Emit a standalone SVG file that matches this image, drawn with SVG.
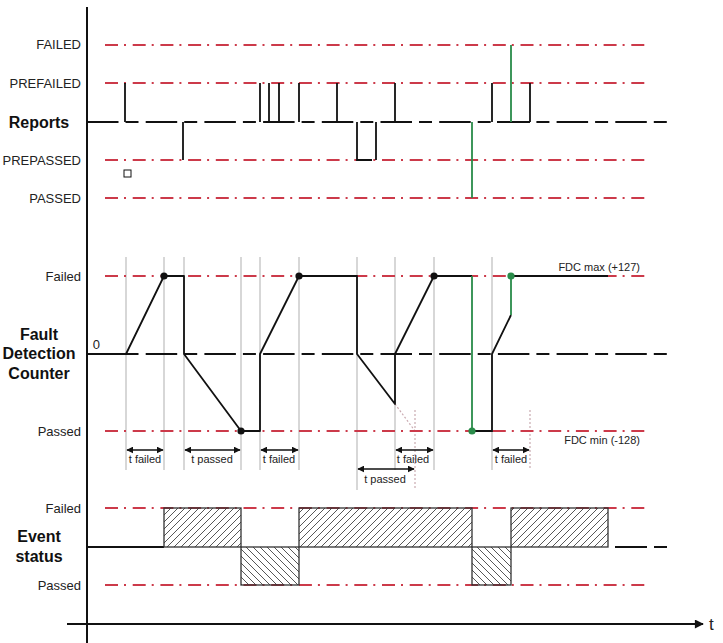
<svg xmlns="http://www.w3.org/2000/svg" width="723" height="643" viewBox="0 0 723 643">
<style>
.lbl{font-family:"Liberation Sans",Arial,sans-serif;font-size:13px;fill:#222;text-anchor:end}
.ttl{font-family:"Liberation Sans",Arial,sans-serif;font-size:16px;font-weight:bold;fill:#111;text-anchor:middle}
.sm{font-family:"Liberation Sans",Arial,sans-serif;font-size:11px;fill:#222}
.red{stroke:#cc3a4a;stroke-width:2;stroke-dasharray:13 6 2 6.7;fill:none}
.base{stroke:#111;stroke-width:1.8;stroke-dasharray:31.5 7 13 7.2;fill:none}
.blk{stroke:#111;stroke-width:1.8;fill:none}
.grn{stroke:#2a8c4a;stroke-width:1.8;fill:none}
.gv{stroke:#c2c2c2;stroke-width:1.3}
.gd{stroke:#c9aab0;stroke-width:1.2;stroke-dasharray:2 2}
.arr{stroke:#111;stroke-width:1.4;marker-start:url(#ah);marker-end:url(#ah)}
.box{stroke:#333;stroke-width:1.3}
</style>
<defs>
<marker id="ah" viewBox="0 0 10 10" refX="9" refY="5" markerWidth="7" markerHeight="7" markerUnits="userSpaceOnUse" orient="auto-start-reverse">
<path d="M0,0 L10,5 L0,10 z" fill="#111"/>
</marker>
<marker id="axh" viewBox="0 0 10 10" refX="9" refY="5" markerWidth="12" markerHeight="9" markerUnits="userSpaceOnUse" orient="auto">
<path d="M0,0 L10,5 L0,10 z" fill="#111"/>
</marker>
<pattern id="hf" patternUnits="userSpaceOnUse" width="7" height="7">
<path d="M-1,1 L1,-1 M0,7 L7,0 M6,8 L8,6" stroke="#444" stroke-width="0.9"/>
</pattern>
<pattern id="hp" patternUnits="userSpaceOnUse" width="7" height="7">
<path d="M-1,6 L1,8 M0,0 L7,7 M6,-1 L8,1" stroke="#444" stroke-width="0.9"/>
</pattern>
</defs>
<rect width="723" height="643" fill="#fff"/>

<g id="labels">
<text class="lbl" x="81" y="49">FAILED</text>
<text class="lbl" x="81" y="88">PREFAILED</text>
<text class="ttl" x="39" y="128">Reports</text>
<text class="lbl" x="81" y="165">PREPASSED</text>
<text class="lbl" x="81" y="203">PASSED</text>
<text class="lbl" x="81" y="281">Failed</text>
<text class="ttl" x="39" y="340">Fault</text>
<text class="ttl" x="39" y="359">Detection</text>
<text class="ttl" x="39" y="379">Counter</text>
<text class="lbl" x="100" y="349">0</text>
<text class="lbl" x="81" y="436">Passed</text>
<text class="lbl" x="81" y="513">Failed</text>
<text class="ttl" x="39" y="542">Event</text>
<text class="ttl" x="39" y="562">status</text>
<text class="lbl" x="81" y="590">Passed</text>
<text class="sm" x="640" y="271" text-anchor="end">FDC max (+127)</text>
<text class="sm" x="640" y="444" text-anchor="end">FDC min (-128)</text>
</g>

<g id="gridlines">
<line class="gv" x1="126" y1="257" x2="126" y2="470"/>
<line class="gv" x1="164" y1="257" x2="164" y2="470"/>
<line class="gv" x1="184" y1="257" x2="184" y2="470"/>
<line class="gv" x1="241" y1="257" x2="241" y2="470"/>
<line class="gv" x1="260" y1="257" x2="260" y2="470"/>
<line class="gv" x1="299" y1="257" x2="299" y2="470"/>
<line class="gv" x1="357" y1="257" x2="357" y2="490"/>
<line class="gv" x1="395" y1="257" x2="395" y2="470"/>
<line class="gv" x1="434" y1="257" x2="434" y2="470"/>
<line class="gv" x1="492" y1="257" x2="492" y2="470"/>
<line class="gd" x1="415" y1="410" x2="415" y2="490"/>
<line class="gd" x1="530" y1="410" x2="530" y2="470"/>
<line class="gd" x1="395" y1="404" x2="415" y2="431"/>
</g>

<g id="levels">
<line class="red" x1="105" y1="45" x2="645" y2="45"/>
<line class="red" x1="105" y1="83" x2="645" y2="83"/>
<line class="red" x1="105" y1="160" x2="645" y2="160"/>
<line class="red" x1="105" y1="198" x2="645" y2="198"/>
<line class="red" x1="105" y1="276" x2="645" y2="276"/>
<line class="red" x1="105" y1="431" x2="645" y2="431"/>
<line class="red" x1="105" y1="508" x2="645" y2="508"/>
<line class="red" x1="105" y1="585" x2="645" y2="585"/>
<line class="base" x1="87" y1="122" x2="667" y2="122"/>
<line class="base" x1="87" y1="354" x2="667" y2="354"/>
</g>

<rect x="124" y="170" width="7" height="7" fill="#fff" stroke="#111" stroke-width="1"/>

<g id="reports">
<path class="blk" d="M125,83V122 M183,122V160 M260,83V122 M269,83V122 M279,83V122 M299,83V122 M337,83V122 M357,122V160 H372 M376,122V160 M395,83V122 M492,83V122 M530,83V122 M497,122H530"/>
<path class="grn" d="M472,122V198 M511,122V45"/>
</g>

<g id="fdc">
<path class="blk" stroke-linejoin="round" d="M87,354 L126,354 L164,276 L184,276 L184,354 L241,431 L260,431 L260,354 L299,276 L357,276 L357,354 L395,404 L395,354 L434,276 L472,276"/>
<path class="blk" d="M472,431 L492,431 L492,354 L511,315 M511,276 L608,276"/>
<path class="grn" d="M472,276 L472,431 M511,315 L511,276"/>
<circle cx="164" cy="276" r="3.6" fill="#111"/>
<circle cx="241" cy="431" r="3.6" fill="#111"/>
<circle cx="299" cy="276" r="3.6" fill="#111"/>
<circle cx="434" cy="276" r="3.6" fill="#111"/>
<circle cx="472" cy="431" r="3.6" fill="#2a8c4a"/>
<circle cx="511" cy="276" r="3.6" fill="#2a8c4a"/>
</g>

<g id="connectors">
<line class="arr" x1="127" y1="450" x2="163" y2="450"/>
<line class="arr" x1="185" y1="450" x2="240" y2="450"/>
<line class="arr" x1="261" y1="450" x2="298" y2="450"/>
<line class="arr" x1="396" y1="450" x2="433" y2="450"/>
<line class="arr" x1="493" y1="450" x2="529" y2="450"/>
<line class="arr" x1="358" y1="469" x2="414" y2="469"/>
</g>

<g id="timers">
<text class="sm" x="145" y="463" text-anchor="middle">t failed</text>
<text class="sm" x="212" y="463" text-anchor="middle">t passed</text>
<text class="sm" x="279" y="463" text-anchor="middle">t failed</text>
<text class="sm" x="413" y="463" text-anchor="middle">t failed</text>
<text class="sm" x="511" y="463" text-anchor="middle">t failed</text>
<text class="sm" x="385" y="483" text-anchor="middle">t passed</text>
</g>

<g id="event">
<line class="blk" x1="87" y1="547" x2="164" y2="547"/>
<path class="blk" d="M615,547H647 M654,547H667"/>
<rect class="box" x="164" y="508" width="77" height="39" fill="url(#hf)"/>
<rect class="box" x="241" y="547" width="58" height="38" fill="url(#hp)"/>
<rect class="box" x="299" y="508" width="173" height="39" fill="url(#hf)"/>
<rect class="box" x="472" y="547" width="39" height="38" fill="url(#hp)"/>
<rect class="box" x="511" y="508" width="97" height="39" fill="url(#hf)"/>
</g>

<g id="axes">
<line x1="87" y1="7" x2="87" y2="643" stroke="#111" stroke-width="2"/>
<line x1="67" y1="624" x2="703" y2="624" stroke="#111" stroke-width="1.8" marker-end="url(#axh)"/>
<text x="709" y="630" font-family="Liberation Sans, Arial, sans-serif" font-size="17" fill="#222">t</text>
</g>
</svg>
